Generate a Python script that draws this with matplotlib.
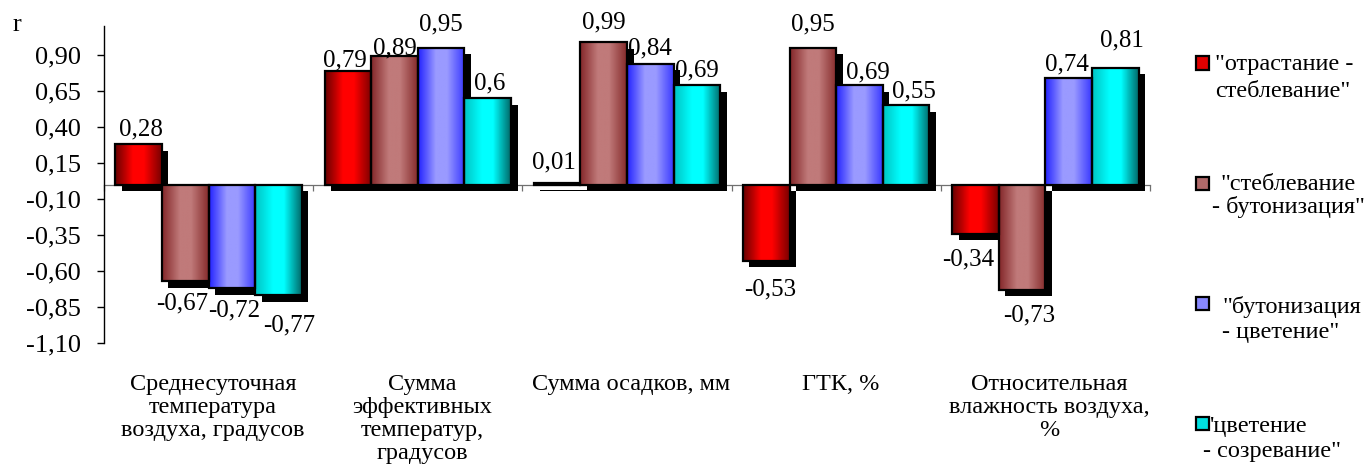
import numpy as np
import matplotlib
matplotlib.use("Agg")
import matplotlib.pyplot as plt
from matplotlib.colors import LinearSegmentedColormap
from matplotlib.transforms import offset_copy, ScaledTranslation
from matplotlib.patches import Rectangle

plt.rcParams['font.family'] = ['Liberation Serif', 'DejaVu Serif']

# ---- data -------------------------------------------------------------
categories = [
    "Среднесуточная\nтемпература\nвоздуха, градусов",
    "Сумма\nэффективных\nтемператур,\nградусов",
    "Сумма осадков, мм",
    "ГТК, %",
    "Относительная\nвлажность воздуха,\n%",
]
series_names = [
    '"отрастание -\nстеблевание"',
    '"стеблевание\n- бутонизация"',
    '"бутонизация\n- цветение"',
    "'цветение\n- созревание\"",
]
otrastanie_steblevanie = [0.28, 0.79, 0.01, -0.53, -0.34]
steblevanie_butonizatsiya = [-0.67, 0.89, 0.99, 0.95, -0.73]
butonizatsiya_tsvetenie = [-0.72, 0.95, 0.84, 0.69, 0.74]
tsvetenie_sozrevanie = [-0.77, 0.6, 0.69, 0.55, 0.81]
series_values = [otrastanie_steblevanie, steblevanie_butonizatsiya,
                 butonizatsiya_tsvetenie, tsvetenie_sozrevanie]
y_ticks = [-1.10, -0.85, -0.60, -0.35, -0.10, 0.15, 0.40, 0.65, 0.90]

# ---- styling ----------------------------------------------------------
# horizontal shading of each bar: dark edge, bright body, darker edge
gradients = [
    ['#6a0000', '#ff0000', '#ff0000', '#7a0000'],
    ['#84282a', '#c07a7a', '#c07a7a', '#862c2c'],
    ['#2424ff', '#9a9aff', '#9a9aff', '#3a3aff'],
    ['#00c4c4', '#00ffff', '#00ffff', '#006a6a'],
]
grad_stops = [0.0, 0.38, 0.62, 1.0]
legend_face = ['#e00000', '#b06a6a', '#8888ff', '#00e0e0']

# value-label nudges in pixels: dx to the right, dy away from the bar end
label_dx = [[2, -3, -3, 4, -7],
            [-3, 0, 0, 0, 7],
            [2, 0, 0, 8, -2],
            [11, 2, 0, 8, 7]]
label_dy = [[0, -5, 6, 7, 4],
            [0, -7, 5, 8, 4],
            [0, 8, 0, -2, -1],
            [8, 0, 0, -1, 13]]


def fmt(v):
    s = f"{v:.2f}".replace('.', ',')
    return s[:-1] if s.endswith('0') and not s.endswith(',00') else s


FS = 17.5       # category names and legend
FS_VAL = 18     # value labels
FS_TICK = 19    # y tick labels
DPI = 100
fig = plt.figure(figsize=(13.65, 4.75), dpi=DPI)
W, H = 1365, 475
ax_left, ax_right, ax_top, ax_bot = 104, 1150, 26.2, 343.0
ax = fig.add_axes([ax_left / W, (H - ax_bot) / H,
                   (ax_right - ax_left) / W, (ax_bot - ax_top) / H])

n_cat = len(categories)
n_ser = len(series_values)
x = np.arange(n_cat)
bw = 0.2228

shadow_tr = offset_copy(ax.transData, fig=fig, x=6.5, y=-6.5, units='dots')

for j, vals in enumerate(series_values):
    pos = x + (j - (n_ser - 1) / 2) * bw
    # drop shadow
    ax.bar(pos, vals, bw, color='black', linewidth=0, zorder=1,
           transform=shadow_tr)
    # outline
    bars = ax.bar(pos, vals, bw, facecolor='none', edgecolor='black',
                  linewidth=1.6, zorder=3)
    cmap = LinearSegmentedColormap.from_list(
        f's{j}', list(zip(grad_stops, gradients[j])))
    grad = cmap(np.linspace(0, 1, 64))[None, :, :3]
    for k, (rect, v) in enumerate(zip(bars.patches, vals)):
        x0, x1 = rect.get_x(), rect.get_x() + rect.get_width()
        y0, y1 = min(0, v), max(0, v)
        ax.imshow(grad, extent=[x0, x1, y0, y1], aspect='auto',
                  interpolation='bilinear', zorder=2)
        # value label
        if v >= 0:
            dy = 15 + label_dy[j][k]
        else:
            dy = -22 - label_dy[j][k]
        tr = ax.transData + ScaledTranslation(label_dx[j][k] / DPI, dy / DPI,
                                              fig.dpi_scale_trans)
        ax.text(pos[k], v, fmt(v), transform=tr, ha='center', va='center',
                fontsize=FS_VAL, zorder=4)

ax.set_xlim(-0.5, n_cat - 0.5)
ax.set_ylim(-1.10, 1.10)

# axes styling
for s in ['top', 'right']:
    ax.spines[s].set_visible(False)
ax.spines['left'].set_linewidth(1.0)
ax.spines['bottom'].set_position(('data', 0))
ax.spines['bottom'].set_color('#707070')
ax.spines['bottom'].set_linewidth(0.9)
ax.spines['bottom'].set_zorder(0.5)
ax.set_axisbelow(True)

ax.set_yticks(y_ticks)
ax.set_yticklabels([f"{t:.2f}".replace('.', ',') for t in y_ticks],
                   fontsize=FS_TICK)
ax.tick_params(axis='y', length=5, width=1.0, pad=11.5)
ax.set_xticks(np.arange(n_cat + 1) - 0.5)
ax.set_xticklabels([])
ax.tick_params(axis='x', length=4, width=0.9, color='#707070',
               direction='out')

# category names under the plot
for i, name in enumerate(categories):
    ax.text(i + 0.02, -0.098, name, transform=ax.get_xaxis_transform(),
            ha='center', va='top', fontsize=FS, linespacing=1.12)

# axis title
fig.text(13 / W, 1 - 31 / H, 'r', fontsize=FS_TICK, ha='left', va='baseline')

# legend drawn by hand on the right
mark_x0, mark_size = 1196, 13
mark_cy = [63, 183, 303, 423]
line1_y = [65, 185, 308, 427]
line2_y = [92, 208, 333, 452]
line1_x = [1215, 1220, 1222, 1210]
line2_x = [1215, 1212, 1222, 1203]
for j, name in enumerate(series_names):
    l1, l2 = name.split('\n')
    sq = Rectangle((mark_x0 / W, 1 - (mark_cy[j] + mark_size / 2) / H),
                   mark_size / W, mark_size / H, transform=fig.transFigure,
                   facecolor=legend_face[j], edgecolor='black',
                   linewidth=1.6)
    fig.patches.append(sq)
    fig.text(line1_x[j] / W, 1 - (line1_y[j] + 5) / H, l1, fontsize=FS,
             ha='left', va='baseline')
    fig.text(line2_x[j] / W, 1 - (line2_y[j] + 5) / H, l2, fontsize=FS,
             ha='left', va='baseline')

fig.savefig('out.png', dpi=DPI)
